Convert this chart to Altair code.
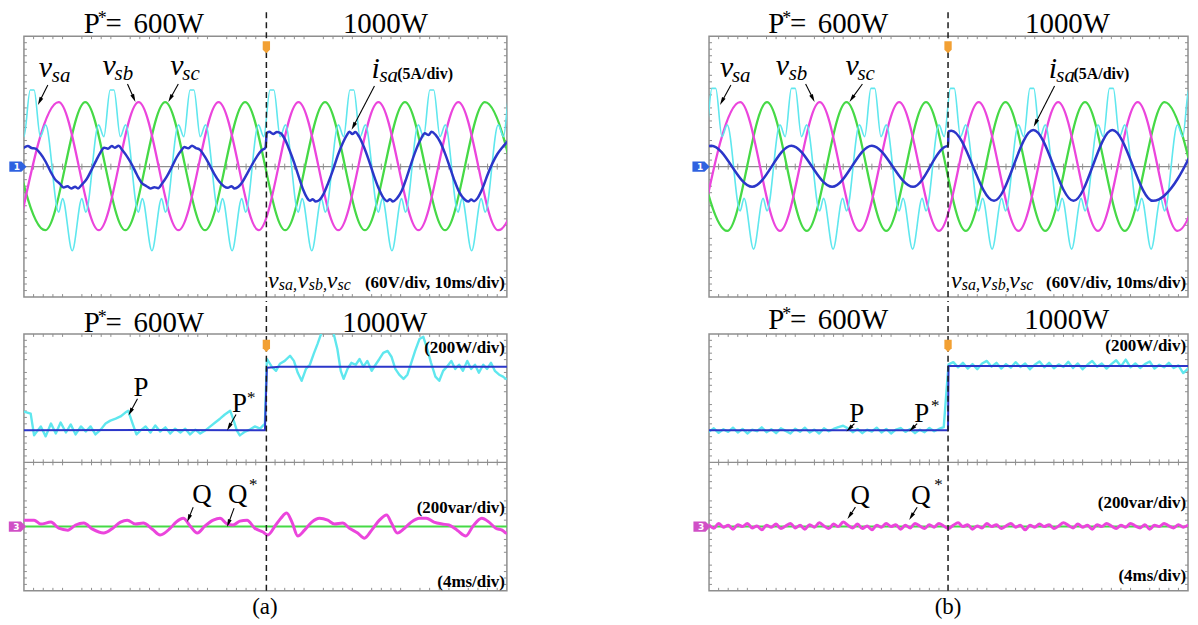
import math
import pandas as pd
import altair as alt

FONT = "Liberation Serif"
CYAN = "#5fe7ee"
MAGENTA = "#eb45dc"
GREEN = "#46d946"
BLUE = "#2b36c9"
GRID = "#a2a2a2"
FRAME = "#8e8e8e"
ORANGE = "#f2a033"

W_A, W_B, H_TOP, H_BOT = 485, 481, 262, 258

# ================= DATA (oscilloscope divisions: time 0..10, value -4..4) =================
# ---------- (a) voltages / current ----------
a_vsb_t = [-0.11, 0.72, 1.55, 2.375, 3.20, 4.03, 4.86, 5.685, 6.51, 7.34, 8.17, 8.995, 9.82, 10.65]
a_vsb_v = [-1.95, 1.98, -1.95, 1.98, -1.95, 1.98, -1.95, 1.98, -1.95, 1.98, -1.95, 1.98, -1.95, 1.98]
a_vsc_t = [-0.385, 0.44, 1.27, 2.10, 2.925, 3.75, 4.58, 5.41, 6.235, 7.06, 7.89, 8.72, 9.545, 10.37]
a_vsc_v = [1.98, -1.95, 1.98, -1.95, 1.98, -1.95, 1.98, -1.95, 1.98, -1.95, 1.98, -1.95, 1.98, -1.95]
a_vsa_t = [
    -0.86, -0.66, -0.46, -0.38,
    -0.11, 0.00, 0.13, 0.21, 0.34, 0.45, 0.72, 0.80, 1.00, 1.20, 1.28,
    1.545, 1.655, 1.785, 1.865, 1.995, 2.105, 2.37, 2.45, 2.65, 2.85, 2.93,
    3.20, 3.31, 3.44, 3.52, 3.65, 3.76, 4.03, 4.11, 4.31, 4.51, 4.59,
    4.855, 4.965, 5.095, 5.175, 5.305, 5.415, 5.68, 5.76, 5.96, 6.16, 6.24,
    6.51, 6.62, 6.75, 6.83, 6.96, 7.07, 7.34, 7.42, 7.62, 7.82, 7.90,
    8.165, 8.275, 8.405, 8.485, 8.615, 8.725, 8.99, 9.07, 9.27, 9.47, 9.55,
    9.82, 9.93, 10.06, 10.14]
a_vsa_v = [
    -0.98, -2.58, -0.98, -1.40,
    1.28, 0.92, 2.35, 2.35, 0.92, 1.28, -1.40, -0.98, -2.58, -0.98, -1.40,
    1.28, 0.92, 2.35, 2.35, 0.92, 1.28, -1.40, -0.98, -2.58, -0.98, -1.40,
    1.28, 0.92, 2.35, 2.35, 0.92, 1.28, -1.40, -0.98, -2.58, -0.98, -1.40,
    1.28, 0.92, 2.35, 2.35, 0.92, 1.28, -1.40, -0.98, -2.58, -0.98, -1.40,
    1.28, 0.92, 2.35, 2.35, 0.92, 1.28, -1.40, -0.98, -2.58, -0.98, -1.40,
    1.28, 0.92, 2.35, 2.35, 0.92, 1.28, -1.40, -0.98, -2.58, -0.98, -1.40,
    1.28, 0.92, 2.35, 2.35]
a_isa_t = [
    0.00, 0.08, 0.16, 0.24, 0.34, 0.45, 0.55, 0.66, 0.74, 0.82,
    0.90, 0.98, 1.06, 1.12, 1.20, 1.30, 1.40, 1.50, 1.58, 1.66,
    1.74, 1.82, 1.88, 1.96, 2.04, 2.14, 2.24, 2.34, 2.44, 2.54,
    2.62, 2.70, 2.78, 2.86, 2.96, 3.06, 3.16, 3.26, 3.32, 3.40,
    3.48, 3.56, 3.64, 3.74, 3.84, 3.94, 4.04, 4.14, 4.22, 4.30,
    4.36, 4.44, 4.52, 4.62, 4.72, 4.82, 4.92, 5.00, 5.03, 5.08,
    5.16, 5.24, 5.32, 5.40, 5.50, 5.60, 5.70, 5.78, 5.86, 5.92,
    5.98, 6.04, 6.12, 6.20, 6.30, 6.40, 6.50, 6.60, 6.68, 6.74,
    6.80, 6.86, 6.94, 7.04, 7.14, 7.24, 7.34, 7.44, 7.52, 7.58,
    7.64, 7.72, 7.82, 7.92, 8.02, 8.12, 8.22, 8.30, 8.38, 8.44,
    8.52, 8.62, 8.72, 8.82, 8.92, 9.02, 9.12, 9.20, 9.26, 9.32,
    9.40, 9.50, 9.60, 9.70, 9.80, 9.90, 10.00]
a_isa_v = [
    0.58, 0.63, 0.57, 0.55, 0.40, 0.15, -0.15, -0.42, -0.52, -0.64,
    -0.60, -0.67, -0.62, -0.67, -0.55, -0.38, -0.10, 0.20, 0.42, 0.58,
    0.55, 0.63, 0.58, 0.64, 0.50, 0.30, 0.05, -0.25, -0.50, -0.60,
    -0.67, -0.63, -0.66, -0.52, -0.30, -0.02, 0.28, 0.50, 0.60, 0.56,
    0.64, 0.57, 0.52, 0.32, 0.06, -0.22, -0.45, -0.60, -0.65, -0.60,
    -0.67, -0.62, -0.48, -0.22, 0.05, 0.30, 0.50, 0.58, 1.02, 1.07,
    1.00, 1.06, 1.02, 0.85, 0.50, 0.10, -0.35, -0.70, -0.95, -1.05,
    -1.00, -1.07, -1.02, -0.85, -0.50, -0.10, 0.35, 0.72, 0.95, 1.07,
    1.00, 1.06, 0.92, 0.60, 0.20, -0.25, -0.65, -0.95, -1.06, -1.00,
    -1.07, -0.98, -0.75, -0.35, 0.10, 0.52, 0.85, 1.02, 0.97, 1.07,
    0.98, 0.75, 0.40, -0.02, -0.45, -0.80, -1.00, -1.07, -1.01, -1.06,
    -0.95, -0.65, -0.25, 0.10, 0.38, 0.58, 0.75]

# ---------- (b) voltages / current ----------
b_vsb_t = [-0.18, 0.65, 1.48, 2.31, 3.14, 3.97, 4.80, 5.63, 6.46, 7.29, 8.12, 8.95, 9.78, 10.61]
b_vsb_v = [-1.97, 1.98, -1.97, 1.98, -1.97, 1.98, -1.97, 1.98, -1.97, 1.98, -1.97, 1.98, -1.97, 1.98]
b_vsc_t = [-0.45, 0.38, 1.21, 2.04, 2.87, 3.70, 4.53, 5.36, 6.19, 7.02, 7.85, 8.68, 9.51, 10.34]
b_vsc_v = [1.98, -1.97, 1.98, -1.97, 1.98, -1.97, 1.98, -1.97, 1.98, -1.97, 1.98, -1.97, 1.98, -1.97]
b_vsa_t = [
    -0.73, -0.53, -0.45,
    -0.18, -0.07, 0.06, 0.14, 0.27, 0.38, 0.65, 0.73, 0.93, 1.13, 1.21,
    1.48, 1.59, 1.72, 1.80, 1.93, 2.04, 2.31, 2.39, 2.59, 2.79, 2.87,
    3.14, 3.25, 3.38, 3.46, 3.59, 3.70, 3.97, 4.05, 4.25, 4.45, 4.53,
    4.80, 4.91, 5.04, 5.12, 5.25, 5.36, 5.63, 5.71, 5.91, 6.11, 6.19,
    6.46, 6.57, 6.70, 6.78, 6.91, 7.02, 7.29, 7.37, 7.57, 7.77, 7.85,
    8.12, 8.23, 8.36, 8.44, 8.57, 8.68, 8.95, 9.03, 9.23, 9.43, 9.51,
    9.78, 9.89, 10.02, 10.10]
b_vsa_v = [
    -2.53, -0.97, -1.36,
    1.28, 0.92, 2.40, 2.40, 0.92, 1.28, -1.36, -0.97, -2.53, -0.97, -1.36,
    1.28, 0.92, 2.40, 2.40, 0.92, 1.28, -1.36, -0.97, -2.53, -0.97, -1.36,
    1.28, 0.92, 2.40, 2.40, 0.92, 1.28, -1.36, -0.97, -2.53, -0.97, -1.36,
    1.28, 0.92, 2.40, 2.40, 0.92, 1.28, -1.36, -0.97, -2.53, -0.97, -1.36,
    1.28, 0.92, 2.40, 2.40, 0.92, 1.28, -1.36, -0.97, -2.53, -0.97, -1.36,
    1.28, 0.92, 2.40, 2.40, 0.92, 1.28, -1.36, -0.97, -2.53, -0.97, -1.36,
    1.28, 0.92, 2.40, 2.40]
b_isa_t = [-0.78, 0.05, 0.90, 1.72, 2.57, 3.40, 4.26, 4.95, 4.99, 5.00, 5.06, 5.95, 6.77, 7.61, 8.42, 9.27, 10.30]
b_isa_v = [-0.62, 0.64, -0.62, 0.64, -0.62, 0.64, -0.62, 0.62, 0.63, 1.08, 1.10, -1.05, 1.12, -1.05, 1.12, -1.05, 1.12]

# ---------- (a) powers ----------
a_p_t = [
    0.00, 0.14, 0.21, 0.35, 0.45, 0.56, 0.66, 0.76, 0.87, 0.97,
    1.07, 1.18, 1.28, 1.38, 1.48, 1.59, 1.69, 1.79, 1.90, 2.00,
    2.10, 2.16, 2.25, 2.33, 2.41, 2.52, 2.62, 2.72, 2.82, 2.93,
    3.03, 3.13, 3.24, 3.34, 3.44, 3.55, 3.65, 3.75, 3.86, 3.96,
    4.06, 4.16, 4.27, 4.33, 4.41, 4.47, 4.58, 4.68, 4.78, 4.89,
    4.99,
    5.03, 5.13, 5.22, 5.30, 5.40, 5.51, 5.59, 5.67, 5.75, 5.84,
    5.92, 6.00, 6.08, 6.16, 6.29, 6.41, 6.49, 6.56, 6.62, 6.70,
    6.78, 6.87, 6.95, 7.03, 7.11, 7.20, 7.28, 7.36, 7.44, 7.53,
    7.61, 7.69, 7.77, 7.86, 7.94, 8.02, 8.10, 8.19, 8.27, 8.35,
    8.43, 8.52, 8.60, 8.68, 8.76, 8.85, 8.93, 9.01, 9.09, 9.18,
    9.26, 9.34, 9.42, 9.51, 9.59, 9.67, 9.75, 9.84, 9.92, 9.98]
a_p_v = [
    1.58, 1.52, 0.84, 1.12, 0.81, 1.21, 0.90, 1.24, 0.93, 1.18,
    0.87, 1.12, 0.96, 1.12, 0.87, 1.02, 1.21, 1.30, 1.36, 1.43,
    1.55, 1.61, 1.21, 0.87, 0.99, 1.12, 0.93, 1.15, 0.96, 1.09,
    0.90, 1.05, 0.93, 1.05, 0.87, 1.02, 0.90, 0.99, 1.12, 1.24,
    1.36, 1.49, 1.61, 1.36, 0.99, 0.84, 0.96, 1.02, 1.12, 1.05,
    1.21,
    3.22, 2.98, 2.85, 3.07, 3.16, 3.32, 3.16, 2.79, 2.54, 2.91,
    3.04, 3.38, 3.69, 4.03, 4.28, 4.03, 3.53, 2.85, 2.60, 2.91,
    3.10, 3.04, 3.22, 2.98, 3.16, 2.85, 3.04, 3.22, 3.41, 3.47,
    3.29, 2.91, 2.73, 2.60, 2.73, 3.10, 3.47, 3.84, 3.91, 3.53,
    3.10, 2.67, 2.54, 2.85, 2.98, 3.16, 2.91, 3.04, 2.85, 3.16,
    2.91, 3.04, 2.79, 3.04, 2.91, 3.10, 2.85, 2.73, 2.67, 2.60]
a_pref_t = [0.00, 2.50, 4.99, 5.03, 5.30, 10.00]
a_pref_v = [1.00, 1.01, 1.00, 2.95, 2.98, 2.98]
a_q_t = [
    0.00, 0.21, 0.35, 0.56, 0.72, 0.91, 1.07, 1.24, 1.42, 1.65,
    1.84, 2.00, 2.14, 2.31, 2.47, 2.66, 2.82, 3.03, 3.15, 3.30,
    3.44, 3.59, 3.75, 3.92, 4.06, 4.21, 4.33, 4.47, 4.62, 4.78,
    4.95, 5.05, 5.20, 5.32, 5.44, 5.55, 5.67, 5.81, 5.96, 6.12,
    6.29, 6.43, 6.60, 6.74, 6.91, 7.05, 7.20, 7.36, 7.51, 7.61,
    7.73, 7.88, 8.02, 8.19, 8.33, 8.49, 8.66, 8.80, 8.97, 9.15,
    9.30, 9.48, 9.63, 9.77, 9.90, 9.98]
a_q_v = [
    -1.80, -1.80, -1.92, -1.86, -2.05, -2.11, -1.95, -1.89, -2.08, -2.20,
    -2.05, -1.86, -1.80, -1.92, -1.89, -2.08, -2.26, -2.05, -1.86, -1.74,
    -1.98, -2.20, -1.98, -1.80, -1.74, -1.92, -1.95, -1.83, -1.80, -2.05,
    -2.17, -2.26, -1.98, -1.74, -1.58, -1.86, -2.29, -2.11, -1.86, -1.74,
    -1.80, -1.92, -1.89, -2.05, -2.20, -2.36, -2.11, -1.80, -1.64, -1.89,
    -2.20, -2.05, -1.86, -1.74, -1.74, -1.86, -1.92, -1.95, -2.11, -2.29,
    -1.98, -1.74, -1.86, -2.05, -2.11, -2.20]
qref_t = [0.0, 10.0]
qref_v = [-2.0, -2.0]

# ---------- (b) powers (sampled every 0.1 div) ----------
b_pq_t = [round(0.1 * i, 1) for i in range(101)]
b_p_v = [
    0.96, 1.06, 0.92, 1.03, 0.95, 1.08, 0.93, 1.04, 0.90, 1.02,
    0.97, 1.09, 0.94, 1.03, 0.91, 1.06, 0.98, 0.90, 1.05, 0.95,
    1.08, 0.93, 1.02, 0.90, 1.06, 0.97, 1.04, 1.10, 1.14, 1.06,
    0.94, 1.04, 0.91, 1.02, 0.96, 1.08, 0.93, 1.04, 0.90, 1.02,
    1.07, 0.95, 1.04, 0.91, 1.02, 0.94, 1.07, 0.97, 1.04, 1.10,
    3.05, 3.12, 2.96, 3.10, 2.92, 3.06, 2.90, 3.08, 3.16, 2.98,
    3.10, 2.92, 3.06, 2.95, 3.12, 2.97, 3.08, 2.90, 3.04, 3.14,
    2.96, 3.10, 2.93, 3.05, 2.97, 3.13, 2.94, 3.08, 2.90, 3.04,
    3.16, 2.98, 3.08, 2.92, 3.06, 3.18, 2.99, 3.20, 2.96, 3.08,
    2.94, 3.06, 3.14, 2.92, 3.04, 2.96, 3.10, 2.94, 3.02, 2.78, 2.92]
b_q_v = [
    -1.95, -2.05, -1.90, -2.02, -1.96, -2.08, -1.94, -2.00, -1.90, -2.04,
    -1.98, -2.10, -1.96, -2.02, -1.92, -2.06, -1.98, -1.90, -2.04, -1.96,
    -2.08, -1.94, -2.02, -1.88, -1.98, -2.06, -1.92, -2.00, -1.86, -1.96,
    -2.04, -1.92, -2.06, -1.98, -2.10, -1.96, -2.02, -1.90, -2.00, -1.94,
    -2.08, -1.96, -2.04, -1.90, -1.98, -2.06, -1.94, -2.02, -1.90, -1.98,
    -2.06, -1.96, -1.88, -2.00, -1.94, -2.08, -1.98, -2.04, -1.90, -2.00,
    -1.94, -2.06, -1.98, -1.90, -2.02, -1.96, -2.10, -1.96, -2.02, -1.92,
    -2.00, -1.94, -2.06, -1.98, -1.88, -1.96, -2.04, -1.92, -2.02, -1.96,
    -2.08, -1.94, -2.00, -1.90, -1.98, -2.06, -1.96, -2.02, -1.90, -1.98,
    -2.04, -1.94, -2.08, -1.96, -2.00, -1.90, -1.98, -2.04, -1.94, -2.02, -1.96]
b_pref_t = [0.00, 4.99, 5.00, 10.00]
b_pref_v = [1.00, 1.00, 3.00, 3.00]

# ================= helpers =================
XS = dict(domain=[0, 10], nice=False, zero=False)
YS = dict(domain=[-4, 4], nice=False, zero=False)


def xenc(field, axis=None):
    if axis is None:
        return alt.X(field, type="quantitative", scale=alt.Scale(**XS), axis=None)
    return alt.X(field, type="quantitative", scale=alt.Scale(**XS), axis=axis)


def yenc(field, axis=None):
    if axis is None:
        return alt.Y(field, type="quantitative", scale=alt.Scale(**YS), axis=None)
    return alt.Y(field, type="quantitative", scale=alt.Scale(**YS), axis=axis)


def grid_layer():
    df = pd.DataFrame({"t": [0.0], "v": [0.0]})
    xa = alt.Axis(values=list(range(11)), grid=True, gridDash=[1.3, 3], gridColor=GRID,
                  gridWidth=1.1, labels=False, ticks=False, domain=False, title="")
    ya = alt.Axis(values=list(range(-4, 5)), grid=True, gridDash=[1.3, 3], gridColor=GRID,
                  gridWidth=1.1, labels=False, ticks=False, domain=False, title="")
    return alt.Chart(df).mark_point(opacity=0, filled=True, size=1).encode(
        x=xenc("t", xa), y=yenc("v", ya))


def frame_layers(pxx, pxy):
    center = alt.Chart(pd.DataFrame({"v": [0.0]})).mark_rule(
        color=FRAME, strokeWidth=1.3).encode(y=yenc("v"))
    vx = [round(0.2 * i, 2) for i in range(1, 50) if i % 5]
    hy = [round(-4 + 0.2 * i, 2) for i in range(1, 40) if i % 5]
    ty, tx = 3.0 / pxy, 3.0 / pxx
    vrows = []
    for x in vx:
        vrows += [(x, -ty, ty), (x, 4.0, 4.0 - ty), (x, -4.0, -4.0 + ty)]
    hrows = []
    for y in hy:
        hrows += [(0.0, tx, y), (10.0, 10.0 - tx, y)]
    vdf = pd.DataFrame(vrows, columns=["x", "y1", "y2"])
    hdf = pd.DataFrame(hrows, columns=["x1", "x2", "y"])
    vt = alt.Chart(vdf).mark_rule(color=FRAME, strokeWidth=1).encode(
        x=xenc("x"), y=yenc("y1"), y2="y2:Q")
    ht = alt.Chart(hdf).mark_rule(color=FRAME, strokeWidth=1).encode(
        x=xenc("x1"), x2="x2:Q", y=yenc("y"))
    return [center, vt, ht]


def trace(t, v, color, width, interp="linear"):
    n = min(len(t), len(v))
    df = pd.DataFrame({"t": t[:n], "v": v[:n]})
    return alt.Chart(df).mark_line(color=color, strokeWidth=width, interpolate=interp,
                                   clip=True, strokeCap="round", strokeJoin="round").encode(
        x=xenc("t"), y=yenc("v"))


def dashed(x, ytop):
    df = pd.DataFrame({"x": [x], "y1": [-4.0], "y2": [ytop]})
    return alt.Chart(df).mark_rule(color="#1c1c1c", strokeWidth=1.5, strokeDash=[6, 4]).encode(
        x=xenc("x"), y=yenc("y1"), y2="y2:Q")


def trigger(x, y):
    df = pd.DataFrame({"x": [x], "y": [y]})
    return alt.Chart(df).mark_point(shape="M-0.6,-1L0.6,-1L0.6,0.4L0,1L-0.6,0.4Z", filled=True,
                                    color=ORANGE, opacity=1, size=150).encode(x=xenc("x"), y=yenc("y"))


def channel(x, y, color, label):
    df = pd.DataFrame({"x": [x], "y": [y], "text": [label]})
    shp = alt.Chart(df).mark_point(shape="M-1,-0.6L0.4,-0.6L1,0L0.4,0.6L-1,0.6Z",
                                   filled=True, color=color, opacity=1, size=300).encode(
        x=xenc("x"), y=yenc("y"))
    txt = alt.Chart(df).mark_text(font="DejaVu Sans", fontSize=9, fontWeight="bold", color="white",
                                  align="center", baseline="middle", dx=-1).encode(
        x=xenc("x"), y=yenc("y"), text="text:N")
    return [shp, txt]


def texts(rows, size, style="normal", weight="normal", align="left"):
    df = pd.DataFrame(rows, columns=["x", "y", "text"])
    return alt.Chart(df).mark_text(font=FONT, fontSize=size, fontStyle=style, fontWeight=weight,
                                   align=align, baseline="alphabetic", color="black").encode(
        x=xenc("x"), y=yenc("y"), text="text:N")


def arrows(rows, pxx, pxy):
    lines, heads = [], []
    back = 4.0
    for (x1, y1, x2, y2) in rows:
        sx = (x2 - x1) * pxx
        sy = -(y2 - y1) * pxy
        L = math.hypot(sx, sy)
        ux, uy = sx / L, sy / L
        ang = math.degrees(math.atan2(ux, -uy)) % 360
        cx, cy = x2 - ux * back / pxx, y2 + uy * back / pxy
        heads.append({"x": cx, "y": cy, "a": ang})
        lines.append({"x": x1, "y": y1, "x2": cx, "y2": cy})
    ldf, hdf = pd.DataFrame(lines), pd.DataFrame(heads)
    ln = alt.Chart(ldf).mark_rule(color="black", strokeWidth=1.1).encode(
        x=xenc("x"), y=yenc("y"), x2="x2:Q", y2="y2:Q")
    hd = alt.Chart(hdf).mark_point(shape="M0,-1L0.5,1L-0.5,1Z", filled=True, color="black",
                                   opacity=1, size=64).encode(
        x=xenc("x"), y=yenc("y"), angle=alt.Angle("a:Q", scale=None))
    return [ln, hd]


def title_texts(y, ystar, x_p, x_star, x_eq, x_600, x_1000):
    return [
        texts([(x_p, y, "P"), (x_eq, y, "="), (x_600, y, "600W")], 29),
        texts([(x_star, ystar, "*")], 18),
        texts([(x_1000, y, "1000W")], 29, align="center"),
    ]


def vlabel(xv, xs, sub, yv, ys, big=30, small=21, main="v"):
    return [texts([(xv, yv, main)], big, style="italic"),
            texts([(xs, ys, sub)], small, style="italic")]


# ================= panels =================
def top_panel(w, pxx, vsa, vsb, vsc, isa, isa_interp, dash_x, mk_x, lab, anchor=False):
    pxy = H_TOP / 8.0
    L = [grid_layer()] + frame_layers(pxx, pxy)
    L += [trace(vsc[0], vsc[1], GREEN, 2.3, "monotone"),
          trace(vsb[0], vsb[1], MAGENTA, 2.3, "monotone"),
          trace(vsa[0], vsa[1], CYAN, 1.6, "monotone"),
          trace(isa[0], isa[1], BLUE, 2.5, isa_interp)]
    L += [dashed(dash_x, 4.76), trigger(dash_x, 3.66)]
    L += channel(mk_x, 0.0, "#2f62e0", "1")
    L += title_texts(4.09, 4.366, 1.237, 1.526, 1.69, 2.27, 7.485)
    ya, ysa = 2.748, 2.595
    yb, ysb = 2.809, 2.656
    L += vlabel(lab["va"], lab["sa"], "sa", ya, ysa)
    L += vlabel(lab["vb"], lab["sb"], "sb", yb, ysb)
    L += vlabel(lab["vc"], lab["sc"], "sc", yb, ysb)
    L += vlabel(lab["i"], lab["isub"], "sa", 2.718, 2.595, main="i")
    L += [texts([(lab["idiv"], 2.687, "(5A/div)")], 16, weight="bold")]
    L += arrows(lab["arrows"], pxx, pxy)
    yb0, ys0 = -3.725, -3.786
    L += [texts([(5.052, yb0, "v"), (5.67, yb0, "v"), (6.268, yb0, "v")], 24, style="italic"),
          texts([(5.278, ys0, "sa,"), (5.897, ys0, "sb,"), (6.495, ys0, "sc")], 16, style="italic"),
          texts([(9.96, yb0, "(60V/div, 10ms/div)")], 17, weight="bold", align="right")]
    if anchor:
        adf = pd.DataFrame({"x": [-14.5 / pxx], "y": [4 + 25.5 / pxy]})
        L += [alt.Chart(adf).mark_point(filled=True, size=1, opacity=0).encode(
            x=xenc("x"), y=yenc("y"))]
    return alt.layer(*L).properties(width=w, height=H_TOP)


def bottom_panel(w, pxx, p, pref, q, dash_x, mk_x, lab):
    pxy = H_BOT / 8.0
    L = [grid_layer()] + frame_layers(pxx, pxy)
    L += [trace(qref_t, qref_v, GREEN, 2.0),
          trace(q[0], q[1], MAGENTA, 3.0, "monotone"),
          trace(p[0], p[1], CYAN, 2.4),
          trace(pref[0], pref[1], BLUE, 2.0)]
    L += [dashed(dash_x, 4 + 33 / pxy), trigger(dash_x, 3.63)]
    L += channel(mk_x, -2.0, "#d04fc6", "3")
    L += title_texts(lab["ty"], lab["ty"] + 0.28, 1.237, 1.526, 1.69, 2.27, 7.47)
    L += [texts([(lab["px"], lab["py"], "P"), (lab["psx"], lab["psy"], "P"),
                 (lab["qx"], lab["qy"], "Q"), (lab["qsx"], lab["qy"], "Q")], 27),
          texts([(lab["pstx"], lab["psty"], "*"), (lab["qstx"], lab["qsty"], "*")], 17)]
    L += [texts([(9.96, lab["wdiv"], "(200W/div)"), (9.96, lab["vardiv"], "(200var/div)"),
                 (9.96, lab["msdiv"], "(4ms/div)")], 17, weight="bold", align="right")]
    L += [texts([(4.99, -4.713, lab["name"])], 23, align="center")]
    L += arrows(lab["arrows"], pxx, pxy)
    return alt.layer(*L).properties(width=w, height=H_BOT)


pxa, pxb = W_A / 10.0, W_B / 10.0

lab_a_top = dict(va=0.309, sa=0.577, vb=1.629, sb=1.876, vc=3.031, sc=3.278,
                 i=7.196, isub=7.36, idiv=7.73,
                 arrows=[(0.495, 2.504, 0.289, 1.893), (2.144, 2.534, 2.309, 1.985),
                         (3.196, 2.534, 2.990, 1.985), (7.258, 2.473, 6.784, 1.130)])
lab_b_top = dict(va=0.229, sa=0.478, vb=1.393, sb=1.663, vc=2.848, sc=3.098,
                 i=7.09, isub=7.25, idiv=7.61,
                 arrows=[(0.457, 2.504, 0.229, 1.893), (2.017, 2.534, 2.204, 1.985),
                         (3.202, 2.534, 2.931, 1.985), (7.214, 2.473, 6.778, 1.221)])

lab_a_bot = dict(ty=4.062, px=2.268, py=2.078, psx=4.309, psy=1.581, pstx=4.619, psty=1.860,
                 qx=3.485, qy=-1.271, qsx=4.227, qstx=4.66, qsty=-0.868,
                 wdiv=3.411, vardiv=-1.581, msdiv=-3.876, name="(a)",
                 arrows=[(2.351, 1.984, 2.165, 1.457), (4.392, 1.488, 4.206, 0.992),
                         (3.505, -1.395, 3.381, -1.860), (4.351, -1.426, 4.206, -2.016)])
lab_b_bot = dict(ty=4.155, px=2.93, py=1.271, psx=4.283, psy=1.271, pstx=4.636, psty=1.612,
                 qx=2.952, qy=-1.302, qsx=4.22, qstx=4.70, qsty=-0.868,
                 wdiv=3.473, vardiv=-1.426, msdiv=-3.69, name="(b)",
                 arrows=[(3.035, 1.209, 2.869, 0.961), (4.345, 1.209, 4.179, 0.961),
                         (3.056, -1.395, 2.89, -1.767), (4.345, -1.395, 4.179, -1.798)])

a_top = top_panel(W_A, pxa, (a_vsa_t, a_vsa_v), (a_vsb_t, a_vsb_v), (a_vsc_t, a_vsc_v),
                  (a_isa_t, a_isa_v), "monotone", 5.02, -0.124, lab_a_top, anchor=True)
b_top = top_panel(W_B, pxb, (b_vsa_t, b_vsa_v), (b_vsb_t, b_vsb_v), (b_vsc_t, b_vsc_v),
                  (b_isa_t, b_isa_v), "monotone", 4.99, -0.166, lab_b_top)
a_bot = bottom_panel(W_A, pxa, (a_p_t, a_p_v), (a_pref_t, a_pref_v), (a_q_t, a_q_v),
                     5.02, -0.134, lab_a_bot)
b_bot = bottom_panel(W_B, pxb, (b_pq_t, b_p_v), (b_pref_t, b_pref_v), (b_pq_t, b_q_v),
                     4.99, -0.146, lab_b_bot)

chart = alt.concat(a_top, b_top, a_bot, b_bot, columns=2,
                   spacing={"row": 37, "column": 203}, bounds="flush").properties(
    padding=0, background="white"
).configure_view(stroke=FRAME, strokeWidth=1.5)

chart.save("out.html", embed_options={"renderer": "svg", "actions": False})
